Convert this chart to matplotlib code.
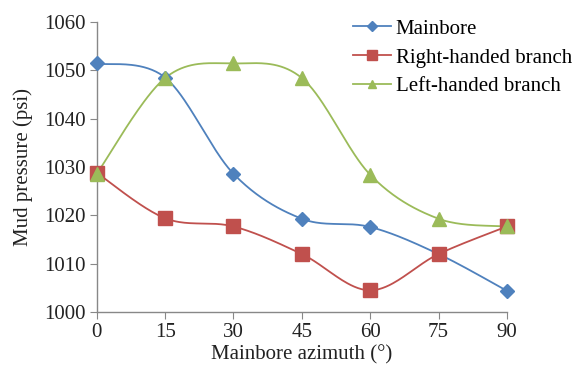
import matplotlib
matplotlib.use('Agg')
import matplotlib.pyplot as plt
import numpy as np
from matplotlib.lines import Line2D

azimuth = [0, 15, 30, 45, 60, 75, 90]
mainbore = [1051.4, 1048.5, 1028.6, 1019.3, 1017.6, 1012.0, 1004.4]
right_branch = [1028.8, 1019.4, 1017.7, 1012.0, 1004.5, 1012.0, 1017.7]
left_branch = [1028.6, 1048.4, 1051.4, 1048.4, 1028.4, 1019.3, 1017.7]
series_names = ['Mainbore', 'Right-handed branch', 'Left-handed branch']


def smooth(x, y, n=40):
    # bezier segments with catmull-rom style control points (like Excel's smoothed line)
    x = np.asarray(x, float)
    y = np.asarray(y, float)
    px = np.concatenate([[x[0]], x, [x[-1]]])
    py = np.concatenate([[y[0]], y, [y[-1]]])
    xs, ys = [], []
    t = np.linspace(0, 1, n)
    for i in range(1, len(px) - 2):
        p0 = np.array([px[i - 1], py[i - 1]])
        p1 = np.array([px[i], py[i]])
        p2 = np.array([px[i + 1], py[i + 1]])
        p3 = np.array([px[i + 2], py[i + 2]])
        c1 = p1 + (p2 - p0) / 6
        c2 = p2 - (p3 - p1) / 6
        pts = ((1 - t) ** 3)[:, None] * p1 + (3 * (1 - t) ** 2 * t)[:, None] * c1 \
            + (3 * (1 - t) * t ** 2)[:, None] * c2 + (t ** 3)[:, None] * p2
        xs.extend(pts[:, 0])
        ys.extend(pts[:, 1])
    return xs, ys


plt.rcParams['font.family'] = ['Liberation Serif', 'DejaVu Serif']

fig = plt.figure(figsize=(5.76, 3.65), dpi=100)
ax = fig.add_axes([0.168, 0.145, 0.712, 0.795])

colors = ['#4F81BD', '#C0504D', '#9BBB59']
markers = ['D', 's', '^']
msizes = [7, 10, 10]
leg_sizes = [5, 7.5, 6]
handles = []
for vals, c, m, ms, lms, name in zip([mainbore, right_branch, left_branch], colors, markers,
                                     msizes, leg_sizes, series_names):
    sx, sy = smooth(azimuth, vals)
    ax.plot(sx, sy, color=c, lw=1.3, zorder=2, clip_on=False)
    ax.plot(azimuth, vals, ls='none', marker=m, ms=ms, color=c, zorder=3, clip_on=False)
    handles.append(Line2D([], [], color=c, lw=1.3, marker=m, ms=lms, label=name))

ax.set_xlim(0, 90)
ax.set_ylim(1000, 1060)
ax.set_xticks(azimuth)
ax.set_yticks(np.arange(1000, 1061, 10))

for s in ['top', 'right']:
    ax.spines[s].set_visible(False)
for s in ['left', 'bottom']:
    ax.spines[s].set_color('#888888')
    ax.spines[s].set_linewidth(1.0)
ax.tick_params(direction='out', length=5, color='#888888', labelsize=15, pad=3)
for lab in ax.get_xticklabels() + ax.get_yticklabels():
    lab.set_color('#222222')

ax.set_xlabel('Mainbore azimuth (°)', fontsize=15, labelpad=2, color='#222222')
ax.set_ylabel('Mud pressure (psi)', fontsize=15, labelpad=8, color='#222222')

leg = fig.legend(handles=handles, loc='upper left', bbox_to_anchor=(353 / 576, 0.948),
                 frameon=False, fontsize=15, handlelength=1.8, handletextpad=0.25,
                 labelspacing=0.45, borderaxespad=0, borderpad=0)

fig.savefig('out.png', dpi=100)
